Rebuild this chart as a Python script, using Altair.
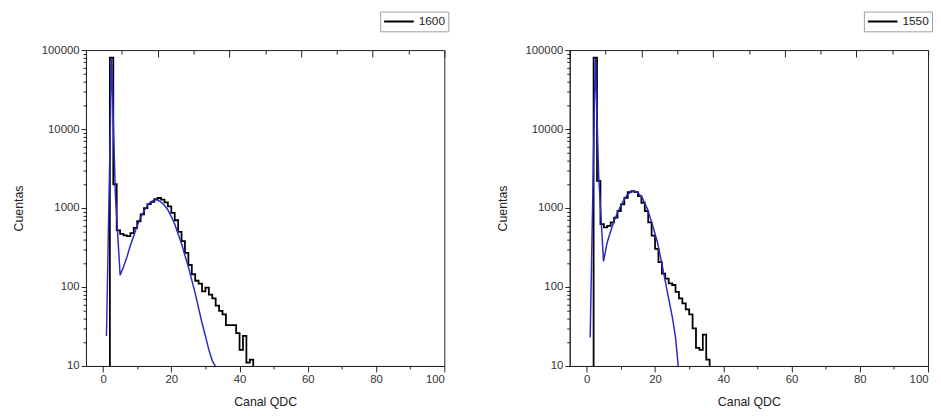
import altair as alt
import pandas as pd

# ---------------- data ----------------
label_left = "1600"
label_right = "1550"

# histogram: left edge of each QDC channel bin and its counts
hist_1600_x = [1, 2, 3, 4, 5, 6, 7, 8, 9, 10, 11, 12, 13, 14, 15, 16, 17, 18, 19, 20, 21, 22,
               23, 24, 25, 26, 27, 28, 29, 30, 31, 32, 33, 34, 35, 36, 37, 38, 39, 40, 41, 42, 43, 44]
hist_1600_y = [1, 80000, 2000, 520, 470, 450, 440, 480, 560, 680, 830, 1000, 1120, 1200, 1300,
               1340, 1280, 1180, 1050, 870, 700, 500, 380, 270, 190, 145, 120, 110, 88, 98, 80,
               72, 58, 50, 45, 33, 33, 33, 26, 16, 24, 11, 12, 1]

fit_1600_x = [1, 2.5, 3.6, 5, 6, 7, 8, 9, 10, 11, 12, 13, 14, 15, 16, 17, 18, 19, 20, 21, 22,
              23, 24, 25, 26, 27, 28, 29, 30, 31, 32, 33]
fit_1600_y = [24, 80000, 1500, 141, 180, 240, 335, 447, 596, 757, 917, 1080, 1200, 1260, 1260,
              1190, 1080, 944, 780, 625, 469, 352, 251, 180, 122, 83, 54, 35, 24, 16, 11.7, 9.7]

hist_1550_x = [1, 2, 3, 4, 5, 6, 7, 8, 9, 10, 11, 12, 13, 14, 15, 16, 17, 18, 19, 20, 21, 22,
               23, 24, 25, 26, 27, 28, 29, 30, 31, 32, 33, 34, 35, 36]
hist_1550_y = [1, 80000, 2200, 625, 567, 596, 656, 757, 917, 1110, 1346, 1585, 1631, 1585, 1413,
               1166, 917, 656, 447, 304, 207, 148, 128, 111, 106, 87, 72, 62, 52, 45, 30, 17, 16,
               25, 12, 1]

fit_1550_x = [1, 2.5, 3.5, 4.9, 6, 7.5, 9, 10.4, 11.9, 13.4, 14.8, 16.3, 17.8, 19.2, 20.7, 22.1,
              23.6, 25.1, 26, 26.8]
fit_1550_y = [23, 80000, 2500, 211, 369, 596, 875, 1166, 1483, 1631, 1585, 1346, 962, 625, 369,
              188, 87, 41, 23, 10]

x_tick_values = [0, 10, 20, 30, 40, 50, 60, 70, 80, 90, 100]
x_major_values = [0, 20, 40, 60, 80, 100]
x_minor_values = [10, 30, 50, 70, 90]
y_tick_values = [10, 20, 30, 40, 50, 60, 70, 80, 90,
                 100, 200, 300, 400, 500, 600, 700, 800, 900,
                 1000, 2000, 3000, 4000, 5000, 6000, 7000, 8000, 9000,
                 10000, 20000, 30000, 40000, 50000, 60000, 70000, 80000, 90000, 100000]

x_title = "Canal QDC"
y_title = "Cuentas"

# ---------------- styling ----------------
FONT = "Liberation Sans"
BLUE = "#2a2ac8"
W, H = 363, 320

is_decade = "indexof([10, 100, 1000, 10000, 100000], datum.value) >= 0"
is_x_major = "datum.value % 20 == 0"


def top_ticks(values, size):
    # the top axis of the reference spans 0..100 over the whole frame, ticks pointing inward
    df = pd.DataFrame({"canal": values})
    return alt.Chart(df).mark_point(opacity=0).encode(
        x=alt.X("canal:Q", scale=alt.Scale(domain=[0, 100], nice=False, zero=False), title=None,
                axis=alt.Axis(orient="top", offset=-size, values=values, labels=False,
                              domain=False, grid=False, tickSize=size)),
    )


def panel(label, hx, hy, fx, fy):
    hist_df = pd.DataFrame({"canal": hx, "cuentas": hy, "serie": label})
    fit_df = pd.DataFrame({"canal": fx, "cuentas": fy})
    xscale = alt.Scale(domain=[-5, 100], nice=False, zero=False)
    yscale = alt.Scale(type="log", domain=[10, 100000], nice=False)

    hist = alt.Chart(hist_df).mark_line(
        interpolate="step-after", strokeWidth=1.8, clip=True
    ).encode(
        x=alt.X("canal:Q", scale=xscale, title=x_title,
                axis=alt.Axis(orient="bottom", values=x_tick_values, grid=False,
                              labelExpr=f"{is_x_major} ? datum.label : ''",
                              tickSize={"condition": {"test": is_x_major, "value": 6}, "value": 3},
                              labelPadding=2, titlePadding=11)),
        y=alt.Y("cuentas:Q", scale=yscale, title=y_title,
                axis=alt.Axis(values=y_tick_values, grid=False, format="d",
                              labelExpr=f"{is_decade} ? datum.label : ''",
                              tickSize={"condition": {"test": is_decade, "value": 5}, "value": 3},
                              labelPadding=2, titlePadding=16)),
        color=alt.Color("serie:N", scale=alt.Scale(domain=[label], range=["black"]),
                        legend=alt.Legend(title=None, orient="none", legendX=298, legendY=-39,
                                          symbolType="stroke", symbolSize=900, clipHeight=14,
                                          symbolStrokeWidth=2, strokeColor="#a0a0a0",
                                          fillColor="white", padding=3, labelOffset=4,
                                          labelFont=FONT, labelFontSize=12, labelColor="#222")),
    )

    fit = alt.Chart(fit_df).mark_line(color=BLUE, strokeWidth=1.5, clip=True).encode(
        x=alt.X("canal:Q", scale=xscale, axis=None),
        y=alt.Y("cuentas:Q", scale=yscale, axis=None),
    )

    return alt.layer(hist, fit, top_ticks(x_major_values, 7), top_ticks(x_minor_values, 4)).resolve_scale(
        x="independent").resolve_axis(x="independent", y="independent").properties(width=W, height=H)


left = panel(label_left, hist_1600_x, hist_1600_y, fit_1600_x, fit_1600_y)
right = panel(label_right, hist_1550_x, hist_1550_y, fit_1550_x, fit_1550_y)

chart = alt.hconcat(left, right, spacing=47).resolve_scale(color="independent").resolve_legend(
    color="independent"
).properties(
    padding={"left": 4, "top": 0, "right": 0, "bottom": 0},
    background="white",
).configure_view(
    stroke="#222", strokeWidth=1
).configure_axis(
    labelFont=FONT, labelFontSize=11.5, labelColor="#333",
    titleFont=FONT, titleFontSize=12.5, titleColor="#222", titleFontWeight=400,
    domainColor="#222", tickColor="#222", domainWidth=1, tickWidth=1,
)

chart.save("out.html", embed_options={"renderer": "svg", "actions": False})
